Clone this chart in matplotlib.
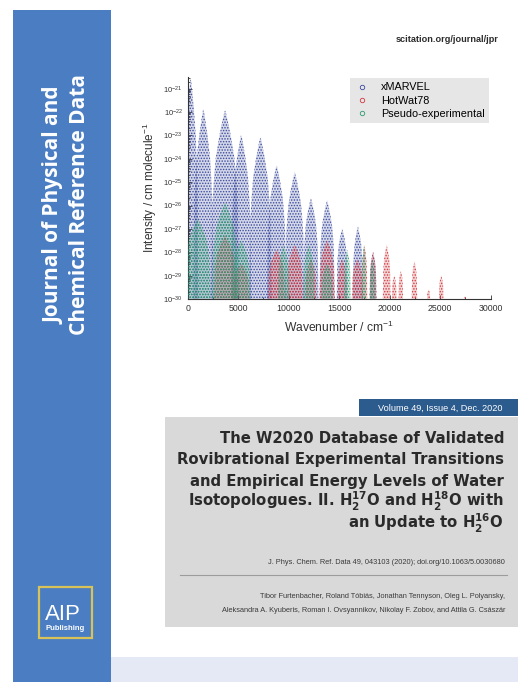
import numpy as np
import matplotlib
matplotlib.use("Agg")
import matplotlib.pyplot as plt
from matplotlib.patches import Rectangle
from matplotlib.lines import Line2D
from matplotlib.ticker import LogLocator, NullFormatter, AutoMinorLocator

xmarvel_centre = [300, 1550, 3700, 5300, 7200, 8800, 10600, 12200, 13800, 15300, 16850, 18350]
xmarvel_width  = [750, 1000, 1400, 1000, 1100, 950, 950, 750, 750, 550, 500, 330]
xmarvel_peak   = [-20.6, -21.9, -21.95, -23.0, -23.1, -24.3, -24.6, -25.7, -25.8, -27.0, -26.9, -28.0]

hotwat_centre = [3700, 5300, 8800, 10600, 12200, 13800, 15300, 16800, 17500, 18350, 19700,
                 20450, 21100, 22450, 23850, 25100, 27450]
hotwat_width  = [1100, 800, 850, 800, 550, 750, 450, 550, 280, 330, 380, 220, 220, 270, 150, 220, 100]
hotwat_peak   = [-27.3, -28.5, -27.9, -27.7, -28.3, -27.5, -28.3, -28.3, -27.7, -28.0, -27.7,
                 -29.0, -28.8, -28.4, -29.6, -29.0, -29.9]

pseudo_centre = [1000, 3700, 5300, 9500, 12000, 13800, 15800, 17450, 18300]
pseudo_width  = [1300, 1300, 900, 550, 550, 550, 330, 220, 270]
pseudo_peak   = [-26.6, -25.9, -27.5, -27.7, -27.7, -28.5, -27.9, -27.7, -28.3]

series_names = ["xMARVEL", "HotWat78", "Pseudo-experimental"]
series_colors = ["#3b4a9c", "#d0393f", "#2f9a70"]

title_lines = [
    "The W2020 Database of Validated",
    "Rovibrational Experimental Transitions",
    "and Empirical Energy Levels of Water",
    r"Isotopologues. II. H$_\mathbf{2}^\mathbf{17}$O and H$_\mathbf{2}^\mathbf{18}$O with",
    r"an Update to H$_\mathbf{2}^\mathbf{16}$O",
]
citation = "J. Phys. Chem. Ref. Data 49, 043103 (2020); doi.org/10.1063/5.0030680"
authors = [
    "Tibor Furtenbacher, Roland Tóbiás, Jonathan Tennyson, Oleg L. Polyansky,",
    "Aleksandra A. Kyuberis, Roman I. Ovsyannikov, Nikolay F. Zobov, and Attila G. Császár",
]

plt.rcParams['font.family'] = ['Liberation Sans', 'DejaVu Sans']
plt.rcParams['mathtext.fontset'] = 'custom'
plt.rcParams['mathtext.rm'] = 'Liberation Sans'
plt.rcParams['mathtext.bf'] = 'DejaVu Sans:bold'
plt.rcParams['hatch.linewidth'] = 0.7

W, H = 518, 682
fig = plt.figure(figsize=(W / 100, H / 100), dpi=100)


def box(x0, y0, x1, y1, **kw):
    # rectangle in pixel coords of the cover (y down)
    fig.add_artist(Rectangle((x0 / W, 1 - y1 / H), (x1 - x0) / W, (y1 - y0) / H,
                             transform=fig.transFigure, **kw))


def txt(x, y, s, **kw):
    fig.text(x / W, 1 - y / H, s, **kw)


# cover furniture
box(13, 10, 111, 682, facecolor="#4a7dc2", edgecolor="none")
box(111, 657, 518, 682, facecolor="#e4e9f5", edgecolor="none")
box(165, 417, 518, 627, facecolor="#d9d9d9", edgecolor="none")
box(359, 399, 518, 416, facecolor="#2c5b8e", edgecolor="none")
box(39, 587, 92, 638, facecolor="none", edgecolor="#d9c257", linewidth=1.6)

txt(67, 205, "Journal of Physical and\nChemical Reference Data", rotation=90,
    ha="center", va="center", color="white", fontsize=15, fontweight="bold",
    family="Open Sans", linespacing=1.25)
txt(63, 614, "AIP", ha="center", va="center", color="white", fontsize=16)
txt(65, 629, "Publishing", ha="center", va="center", color="white", fontsize=5.5,
    fontweight="bold")
txt(499, 40, "scitation.org/journal/jpr", ha="right", va="center", color="#2b2b2b",
    fontsize=6.6, fontweight="bold")
txt(503, 408, "Volume 49, Issue 4, Dec. 2020", ha="right", va="center", color="white",
    fontsize=6.6)

for i, line in enumerate(title_lines):
    txt(504, 443 + 21.3 * i, line, ha="right", va="baseline", color="#2a2a2a",
        fontsize=10.7, fontweight="bold", family="DejaVu Sans")
txt(505, 562, citation, ha="right", va="center", color="#3a3a3a", fontsize=5.3)
fig.add_artist(Line2D([180 / W, 507 / W], [1 - 575 / H, 1 - 575 / H],
                      transform=fig.transFigure, color="#9c9c9c", linewidth=0.8))
for i, line in enumerate(authors):
    txt(505, 596 + 14 * i, line, ha="right", va="center", color="#3a3a3a", fontsize=5.3)

# the spectrum
ax = fig.add_axes([187.7 / W, 1 - 299 / H, 303 / W, 222 / H])
# spindle outline of one band (fraction of height, fraction of half width)
prof_h = np.array([0.0, 0.5, 0.62, 0.75, 0.87, 0.95, 1.0])
prof_w = np.array([1.0, 0.9, 0.8, 0.66, 0.4, 0.18, 0.03])

series = [
    (xmarvel_centre, xmarvel_width, xmarvel_peak),
    (hotwat_centre, hotwat_width, hotwat_peak),
    (pseudo_centre, pseudo_width, pseudo_peak),
]
for k, (cs, ws, ps) in enumerate(series):
    col = series_colors[k]
    for c, w, p in zip(cs, ws, ps):
        ly = -30 + (p + 30) * prof_h
        xs = np.concatenate([c - w * prof_w, (c + w * prof_w)[::-1]])
        ys = 10 ** np.concatenate([ly, ly[::-1]])
        ax.fill(xs, ys, facecolor=matplotlib.colors.to_rgba(col, 0.22), edgecolor=col,
                hatch="......", linewidth=0, zorder=2 + k)

ax.set_yscale("log")
ax.set_xlim(0, 30000)
ax.set_ylim(1e-30, 10 ** -20.5)
ax.yaxis.set_major_locator(LogLocator(base=10, numticks=30))
ax.yaxis.set_minor_locator(LogLocator(base=10, subs=np.arange(2, 10), numticks=300))
ax.yaxis.set_minor_formatter(NullFormatter())
ax.set_xticks([0, 5000, 10000, 15000, 20000, 25000, 30000])
ax.xaxis.set_minor_locator(AutoMinorLocator(2))
ax.spines["top"].set_visible(False)
ax.spines["right"].set_visible(False)
for s in ["left", "bottom"]:
    ax.spines[s].set_linewidth(0.8)
    ax.spines[s].set_color("#333333")
ax.tick_params(which="both", direction="in", colors="#333333", width=0.6)
ax.tick_params(axis="x", labelsize=6.3)
ax.tick_params(axis="y", labelsize=5.5)
ax.tick_params(which="major", length=3)
ax.tick_params(which="minor", length=1.5)
ax.set_xlabel("Wavenumber / cm$^{-1}$", fontsize=8.7, color="#333333", labelpad=5)
ax.set_ylabel("Intensity / cm molecule$^{-1}$", fontsize=8.5, color="#333333", labelpad=3)

handles = [Line2D([], [], marker="o", linestyle="none", markerfacecolor="none",
                  markeredgecolor=c, markersize=3.2, markeredgewidth=0.6)
           for c in series_colors]
leg = ax.legend(handles, series_names, loc="upper right", bbox_to_anchor=(0.995, 0.995),
                borderaxespad=0, fontsize=7.8, frameon=True, fancybox=False,
                handletextpad=1.0, labelspacing=0.3, handlelength=1.5,
                borderpad=0.4)
leg.get_frame().set_facecolor("#e6e6e6")
leg.get_frame().set_edgecolor("none")
leg.get_frame().set_alpha(1)

fig.savefig("out.png", dpi=100, facecolor="white")
